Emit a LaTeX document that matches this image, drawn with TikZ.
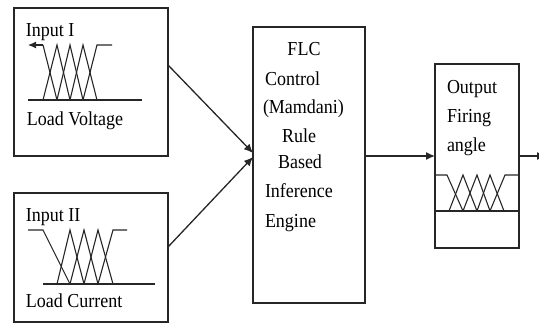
\documentclass[tikz,border=0pt]{standalone}
\usepackage{fontspec}
\setmainfont{Liberation Serif}
\usepackage{graphicx}
\usetikzlibrary{arrows.meta}
\tikzset{
 blk/.style={draw=black!85, line width=1.3pt, inner sep=0pt, outer sep=0pt, rectangle},
 lbl/.style={inner sep=0pt, outer sep=0pt, anchor=base west, font=\fontsize{18}{20}\selectfont, text=black},
 lblc/.style={lbl, anchor=base},
 mf/.style={draw=black!85, line width=1.1pt, line join=miter},
 conn/.style={draw=black!85, line width=1.3pt, -{Latex[length=9pt,width=8pt]}},
}
\newcommand{\tall}[1]{\scalebox{1}[1.1]{#1}}
\begin{document}
\begin{tikzpicture}[x=1pt,y=-1pt]
\useasboundingbox (0,0) rectangle (539,324);
% blocks
\node[blk, minimum width=154pt, minimum height=148pt] (in1) at (91,82) {};
\node[blk, minimum width=154pt, minimum height=129pt] (in2) at (91,257.5) {};
\node[blk, minimum width=112pt, minimum height=276pt] (flc) at (309,165) {};
\node[blk, minimum width=84pt, minimum height=184pt] (out) at (477,156) {};
% input I
\node[lbl] (t1a) at (26,36) {\tall{Input I}};
\node[lbl] (t1b) at (27,125) {\tall{Load Voltage}};
\draw[mf] (28,100) -- (142,100);
\draw[mf, -{Latex[length=8pt,width=7pt]}] (43,45) -- (28,45);
\draw[mf] (43,45) -- (57,100);
\draw[mf] (43,100) -- (57,45) -- (70,100);
\draw[mf] (57,100) -- (70,45) -- (83,100);
\draw[mf] (70,100) -- (83,45) -- (97,100);
\draw[mf] (83,100) -- (97,45) -- (112,45);
% input II
\node[lbl] (t2a) at (26,221) {\tall{Input II}};
\node[lbl] (t2b) at (26,307) {\tall{Load Current}};
\draw[mf] (43,284) -- (155,284);
\draw[mf] (28,230) -- (43,230) -- (70,284);
\draw[mf] (57,284) -- (70,230) -- (84,284);
\draw[mf] (70,284) -- (84,230) -- (98,284);
\draw[mf] (84,284) -- (98,230) -- (113,284);
\draw[mf] (98,284) -- (113,230) -- (127,230);
% FLC text
\node[lblc] (f1) at (304,55) {\tall{FLC}};
\node[lbl] (f2) at (265,85) {\tall{Control}};
\node[lbl] (f3) at (263,113) {\tall{(Mamdani)}};
\node[lblc] (f4) at (299,142) {\tall{Rule}};
\node[lblc] (f5) at (300,168) {\tall{Based}};
\node[lbl] (f6) at (265,197) {\tall{Inference}};
\node[lbl] (f7) at (265,227) {\tall{Engine}};
% output
\node[lbl] (o1) at (447,93) {\tall{Output}};
\node[lbl] (o2) at (447,122) {\tall{Firing}};
\node[lbl] (o3) at (447,151) {\tall{angle}};
\draw[mf] (out.west |- 0,211) -- (out.east |- 0,211);
\draw[mf] (out.west |- 0,175) -- (447,175) -- (463,211);
\draw[mf] (449,211) -- (463,175) -- (477,211);
\draw[mf] (463,211) -- (477,175) -- (490,211);
\draw[mf] (477,211) -- (490,175) -- (504,211);
\draw[mf] (490,211) -- (505,175) -- (out.east |- 0,175);
% connectors
\draw[conn] ([yshift=17pt]in1.east) -- ([yshift=12pt]flc.west);
\draw[conn] ([yshift=10.5pt]in2.east) -- ([yshift=8pt]flc.west);
\draw[conn] (flc.east |- out.west) -- (out.west);
\coordinate (outend) at (546,156);
\draw[conn] (out.east) -- (outend);
\end{tikzpicture}
\end{document}
